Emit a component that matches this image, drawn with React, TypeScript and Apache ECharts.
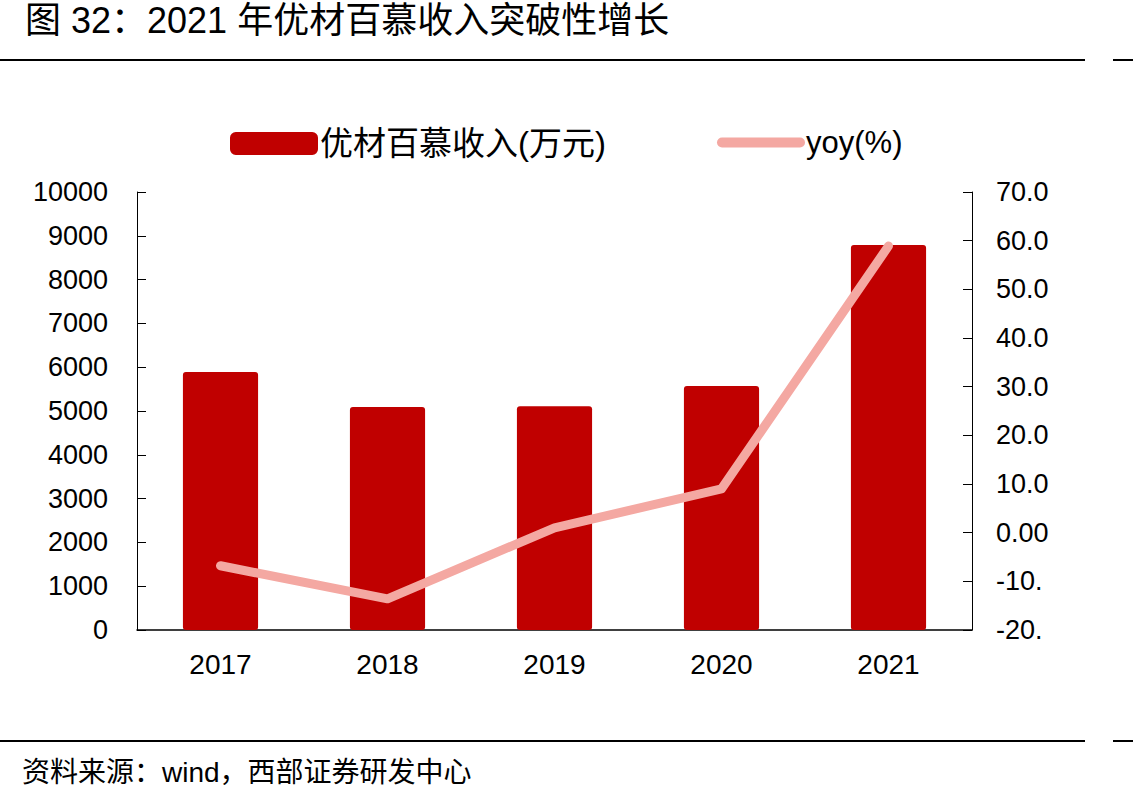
import React, { useEffect, useRef } from "react";
import * as echarts from "echarts";

const years = ["2017", "2018", "2019", "2020", "2021"];
const revenue = [5890, 5090, 5110, 5570, 8790];
const yoy = [-6.8, -13.6, 1.0, 9.0, 58.9];
const leftTicks = { min: 0, max: 10000, interval: 1000 };
const rightTicks = { min: -20, max: 70, interval: 10 };

const title = "图 32：2021 年优材百慕收入突破性增长";
const source = "资料来源：wind，西部证券研发中心";
const barName = "优材百慕收入(万元)";
const lineName = "yoy(%)";

const fmtRight = (v: number) => {
  if (v === 0) return "0.00";
  const s = v.toFixed(1);
  return s.length > 4 ? s.slice(0, 4) : s;
};

export default function App() {
  const ref = useRef<HTMLDivElement>(null);
  useEffect(() => {
    if (!ref.current) return;
    const chart = echarts.init(ref.current, undefined, { renderer: "svg" });
    const font = "'Liberation Sans', Arial, sans-serif";
    const cjk = "'Liberation Sans', 'Noto Sans CJK SC', sans-serif";
    const barColor = "#C00000";
    const lineColor = "#F4A8A2";
    const pillIcon = "path://M5,0 L83,0 A5,5 0 0 1 83,10 L5,10 A5,5 0 0 1 5,0 Z";
    chart.setOption({
      animation: false,
      backgroundColor: "#ffffff",
      grid: { left: 137, right: 161, top: 192, bottom: 176 },
      legend: [
        {
          top: 122,
          left: 225,
          itemWidth: 88,
          itemHeight: 23,
          itemGap: 8,
          textStyle: { fontSize: 33, fontFamily: cjk, color: "#000", padding: [0, 0, 0, -3] },
          data: [{ name: barName, icon: "roundRect" }],
        },
        {
          top: 122,
          left: 712,
          itemWidth: 88,
          itemHeight: 10,
          textStyle: { fontSize: 31, fontFamily: cjk, color: "#000", padding: [0, 0, 0, -4] },
          data: [
            {
              name: lineName,
              icon: pillIcon,
              itemStyle: { color: lineColor, borderWidth: 0 },
            },
          ],
        },
      ],
      graphic: [
        {
          type: "text",
          left: 25,
          top: 2,
          style: { text: title, fontSize: 36, fontFamily: cjk, fill: "#000" },
        },
        { type: "rect", shape: { x: 0, y: 59, width: 1085, height: 2 }, style: { fill: "#000" } },
        { type: "rect", shape: { x: 1113, y: 59, width: 20, height: 2 }, style: { fill: "#000" } },
        { type: "rect", shape: { x: 0, y: 740, width: 1085, height: 2 }, style: { fill: "#000" } },
        { type: "rect", shape: { x: 1113, y: 740, width: 20, height: 2 }, style: { fill: "#000" } },
        {
          type: "text",
          left: 22,
          top: 758,
          style: { text: source, fontSize: 28, fontFamily: cjk, fill: "#000" },
        },
      ],
      xAxis: {
        type: "category",
        data: years,
        axisLine: { lineStyle: { color: "#000", width: 1.5 } },
        axisTick: { inside: true, length: 9, lineStyle: { color: "#000" } },
        axisLabel: { fontSize: 28, fontFamily: font, color: "#000", margin: 20 },
      },
      yAxis: [
        {
          type: "value",
          ...leftTicks,
          axisLine: { show: true, lineStyle: { color: "#000", width: 1 } },
          axisTick: { show: true, inside: true, length: 9, lineStyle: { color: "#000" } },
          axisLabel: {
            fontSize: 27,
            fontFamily: font,
            color: "#000",
            margin: 29,
            formatter: (v: number) => String(v),
          },
          splitLine: { show: false },
        },
        {
          type: "value",
          ...rightTicks,
          position: "right",
          axisLine: { show: true, lineStyle: { color: "#000", width: 1 } },
          axisTick: { show: true, inside: true, length: 9, lineStyle: { color: "#000" } },
          axisLabel: {
            fontSize: 27,
            fontFamily: font,
            color: "#000",
            margin: 24,
            formatter: fmtRight,
          },
          splitLine: { show: false },
        },
      ],
      series: [
        {
          name: barName,
          type: "bar",
          data: revenue,
          barWidth: "45%",
          itemStyle: { color: barColor, borderRadius: 3 },
        },
        {
          name: lineName,
          type: "line",
          yAxisIndex: 1,
          data: yoy,
          symbol: "none",
          lineStyle: { color: lineColor, width: 9, cap: "round", join: "round" },
          itemStyle: { color: lineColor },
        },
      ],
    });
    return () => chart.dispose();
  }, []);
  return (
    <div
      ref={ref}
      style={{ position: "absolute", left: 0, top: 0, width: 1133, height: 806 }}
    />
  );
}
